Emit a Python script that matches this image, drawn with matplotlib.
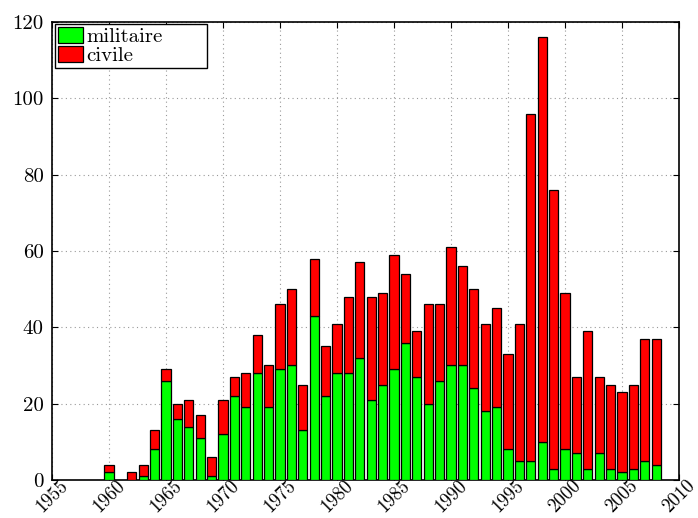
import matplotlib
matplotlib.use("Agg")
import matplotlib.pyplot as plt
import numpy as np

plt.rcParams['font.family'] = 'serif'
plt.rcParams['font.serif'] = ['cmr10', 'DejaVu Serif']
plt.rcParams['mathtext.fontset'] = 'cm'
plt.rcParams['axes.formatter.use_mathtext'] = True

years = [1960] + list(range(1962, 2009))
militaire = [2, 0, 1, 8, 26, 16, 14, 11, 1, 12, 22, 19, 28, 19, 29, 30, 13, 43, 22, 28,
             28, 32, 21, 25, 29, 36, 27, 20, 26, 30, 30, 24, 18, 19, 8, 5, 5, 10, 3, 8,
             7, 3, 7, 3, 2, 3, 5, 4]
civile = [2, 2, 3, 5, 3, 4, 7, 6, 5, 9, 5, 9, 10, 11, 17, 20, 12, 15, 13, 13,
          20, 25, 27, 24, 30, 18, 12, 26, 20, 31, 26, 26, 23, 26, 25, 36, 91, 106, 73, 41,
          20, 36, 20, 22, 21, 22, 32, 33]
xticks = list(range(1955, 2011, 5))
yticks = list(range(0, 121, 20))

fig = plt.figure(figsize=(6.98, 5.18), dpi=100)
ax = fig.add_axes([0.0745, 0.0734, 0.8983, 0.8841])

ax.bar(years, militaire, width=0.8, color='#00ff00', edgecolor='black', linewidth=0.9,
       label='militaire', zorder=3)
ax.bar(years, civile, width=0.8, bottom=militaire, color='#ff0000', edgecolor='black',
       linewidth=0.9, label='civile', zorder=3)

ax.set_xlim(1955, 2010)
ax.set_ylim(0, 120)
ax.set_xticks(xticks)
ax.set_yticks(yticks)
ax.set_xticklabels([str(t) for t in xticks], rotation=45, ha='center', va='center',
                   rotation_mode='anchor', fontsize=13.5)
ax.set_yticklabels([str(t) for t in yticks], fontsize=15)
ax.tick_params(direction='in', top=True, right=True, length=4, width=0.8)
ax.tick_params(axis='y', pad=6)
ax.tick_params(axis='x', pad=12)
ax.grid(True, linestyle=(0, (1, 3)), color='#999999', linewidth=0.8, zorder=0)
for s in ax.spines.values():
    s.set_linewidth(1.2)

leg = ax.legend(loc='upper left', bbox_to_anchor=(0.005, 0.995, 0.242, 0), mode='expand',
                fancybox=False, edgecolor='black', framealpha=1,
                fontsize=15, handlelength=1.2, handleheight=0.75, borderaxespad=0,
                borderpad=0.15, labelspacing=0.0, handletextpad=0.15)
leg.get_frame().set_linewidth(1.0)

fig.savefig('out.png', dpi=100)
